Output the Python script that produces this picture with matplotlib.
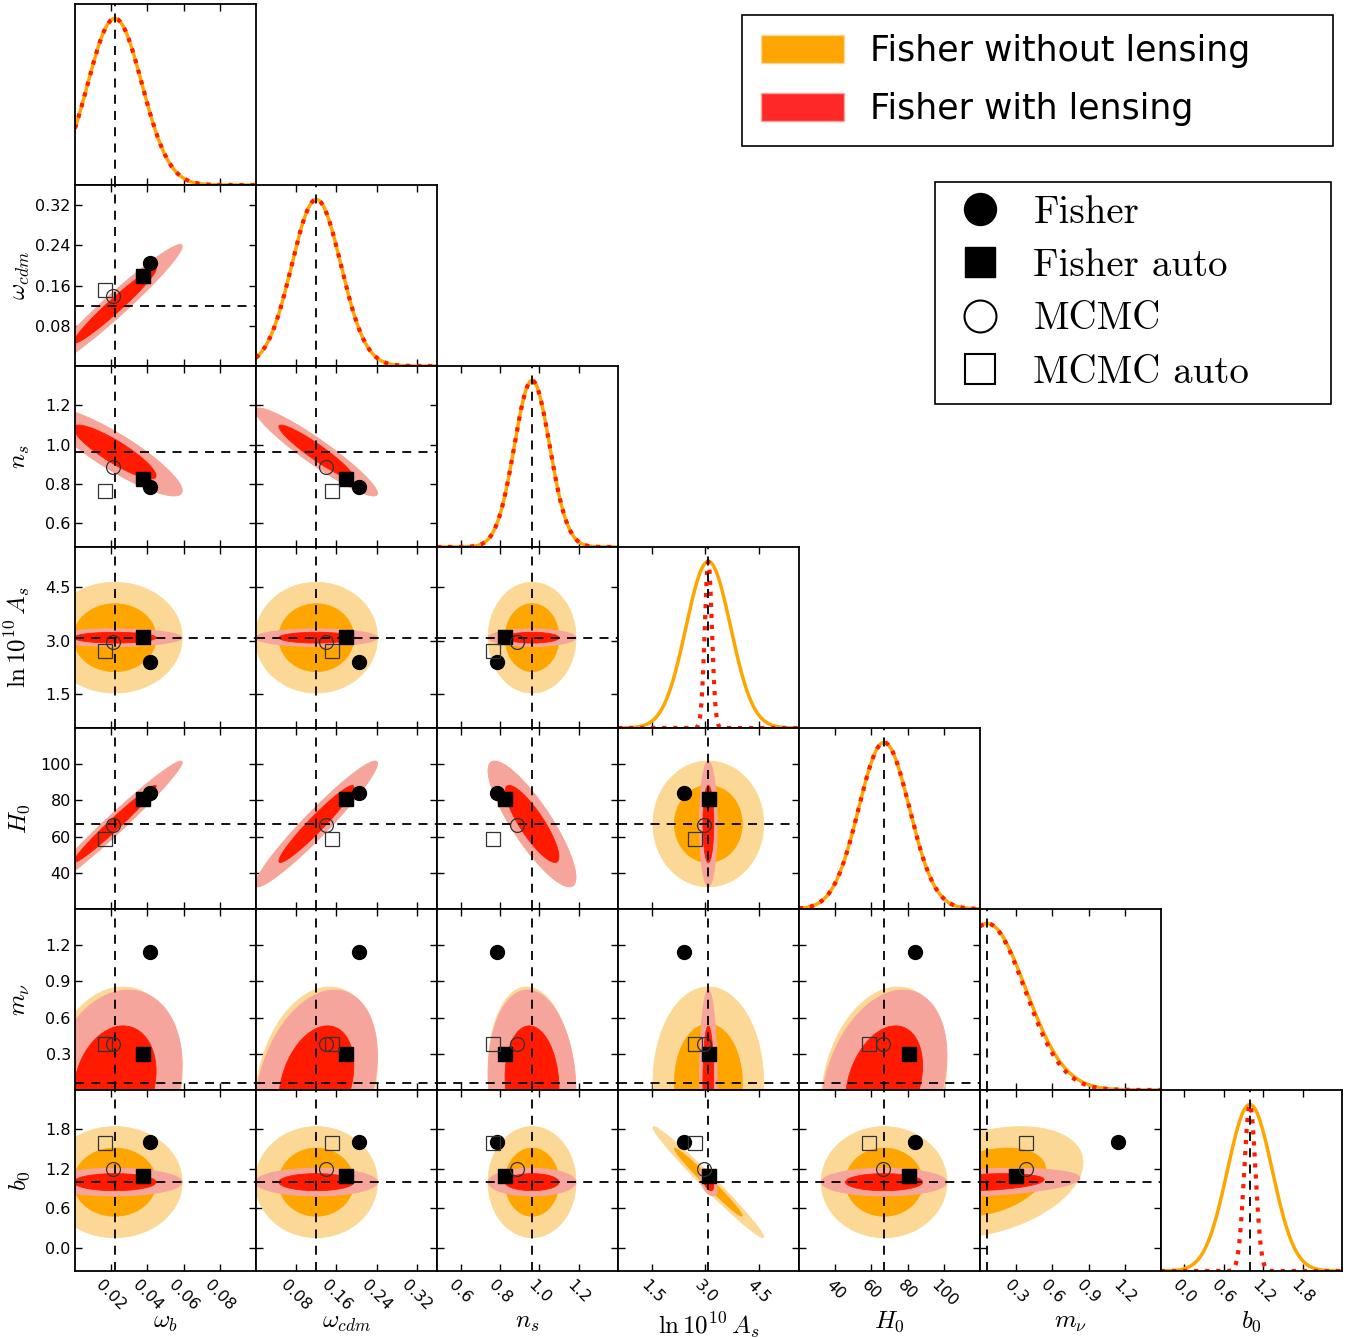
import numpy as np
import matplotlib.pyplot as plt
from matplotlib.lines import Line2D
from matplotlib.patches import Patch
from matplotlib.ticker import FixedLocator, FixedFormatter

plt.rcParams['mathtext.fontset'] = 'cm'

labels = [r'$\omega_b$', r'$\omega_{cdm}$', r'$n_s$', r'$\ln10^{10}\,A_s$', r'$H_0$', r'$m_\nu$', r'$b_0$']
fiducial = [0.022, 0.12, 0.963, 3.08, 67.0, 0.06, 1.0]
sigma_nolens = [0.015, 0.049, 0.09, 0.63, 14.0, 0.32, 0.34]
sigma_lens = [0.015, 0.049, 0.09, 0.10, 14.0, 0.31, 0.085]

corr_lens = [
    [1.00, 0.97, -0.88, 0.00, 0.98, 0.20, 0.00],
    [0.97, 1.00, -0.94, 0.00, 0.96, 0.30, 0.00],
    [-0.88, -0.94, 1.00, 0.00, -0.85, -0.10, 0.00],
    [0.00, 0.00, 0.00, 1.00, 0.00, 0.00, -0.50],
    [0.98, 0.96, -0.85, 0.00, 1.00, 0.30, 0.00],
    [0.20, 0.30, -0.10, 0.00, 0.30, 1.00, 0.30],
    [0.00, 0.00, 0.00, -0.50, 0.00, 0.30, 1.00],
]
corr_nolens = [
    [1.00, 0.97, -0.88, 0.00, 0.98, 0.12, 0.00],
    [0.97, 1.00, -0.94, 0.00, 0.96, 0.22, 0.00],
    [-0.88, -0.94, 1.00, 0.00, -0.85, -0.12, 0.00],
    [0.00, 0.00, 0.00, 1.00, 0.00, 0.00, -0.985],
    [0.98, 0.96, -0.85, 0.00, 1.00, 0.22, 0.00],
    [0.12, 0.22, -0.12, 0.00, 0.22, 1.00, 0.35],
    [0.00, 0.00, 0.00, -0.985, 0.00, 0.35, 1.00],
]

est_fisher = [0.0414, 0.205, 0.785, 2.39, 84.3, 1.14, 1.61]
est_fisher_auto = [0.0377, 0.179, 0.825, 3.11, 80.5, 0.30, 1.09]
est_mcmc = [0.0208, 0.140, 0.885, 2.96, 66.3, 0.385, 1.20]
est_mcmc_auto = [0.0167, 0.151, 0.765, 2.71, 58.5, 0.38, 1.60]

limits = [(0.0, 0.1), (0.0, 0.36), (0.48, 1.4), (0.53, 5.64), (20.0, 120.0), (0.0, 1.5), (-0.35, 2.4)]
ticks = [[0.02, 0.04, 0.06, 0.08], [0.08, 0.16, 0.24, 0.32], [0.6, 0.8, 1.0, 1.2],
         [1.5, 3.0, 4.5], [40, 60, 80, 100], [0.3, 0.6, 0.9, 1.2], [0.0, 0.6, 1.2, 1.8]]
tick_labels = [["0.02", "0.04", "0.06", "0.08"], ["0.08", "0.16", "0.24", "0.32"],
               ["0.6", "0.8", "1.0", "1.2"], ["1.5", "3.0", "4.5"], ["40", "60", "80", "100"],
               ["0.3", "0.6", "0.9", "1.2"], ["0.0", "0.6", "1.2", "1.8"]]

ORANGE_LIGHT = '#FCD896'
ORANGE = '#FFA500'
RED_LIGHT = '#F6A59C'
RED = '#FF1A00'

W, H = 1351, 1338
LEFT, TOP, CELL = 75, 4, 181
N = len(labels)


def ellipse(mx, my, sx, sy, rho, k):
    cov = np.array([[sx * sx, rho * sx * sy], [rho * sx * sy, sy * sy]])
    chol = np.linalg.cholesky(cov)
    t = np.linspace(0, 2 * np.pi, 300)
    pts = chol @ np.vstack([np.cos(t), np.sin(t)]) * k
    return mx + pts[0], my + pts[1]


def style_axis(ax, i, j, diag):
    for s in ax.spines.values():
        s.set_linewidth(1.3)
    ax.set_xlim(limits[j])
    ax.xaxis.set_major_locator(FixedLocator(ticks[j]))
    ax.xaxis.set_major_formatter(FixedFormatter(tick_labels[j]))
    ax.tick_params(axis='x', direction='in', top=True, bottom=True, length=5, width=1,
                   labelsize=11.5, pad=5, labelbottom=(i == N - 1))
    if i == N - 1:
        plt.setp(ax.get_xticklabels(), rotation=-45)
        ax.set_xlabel(labels[j], fontsize=18)
        ax.xaxis.set_label_coords(0.5, -0.215)
    if diag:
        ax.set_ylim(0, 1.087)
        ax.set_yticks([])
    else:
        ax.set_ylim(limits[i])
        ax.yaxis.set_major_locator(FixedLocator(ticks[i]))
        ax.yaxis.set_major_formatter(FixedFormatter(tick_labels[i]))
        ax.tick_params(axis='y', direction='in', left=True, right=True, length=5, width=1,
                       labelsize=11.5, pad=3, labelleft=(j == 0))
        if j == 0:
            ax.set_ylabel(labels[i], fontsize=18)
            ax.yaxis.set_label_coords(-0.235, 0.5)


fig = plt.figure(figsize=(W / 100, H / 100), dpi=100)
dash = dict(color='black', lw=1.3, dashes=(5, 4), zorder=5)

for i in range(N):
    for j in range(i + 1):
        ax = fig.add_axes([(LEFT + CELL * j) / W, 1 - (TOP + CELL * (i + 1)) / H, CELL / W, CELL / H])
        if i == j:
            x = np.linspace(limits[j][0], limits[j][1], 500)
            ax.plot(x, np.exp(-0.5 * ((x - fiducial[j]) / sigma_nolens[j]) ** 2), color=ORANGE, lw=2.5)
            ax.plot(x, np.exp(-0.5 * ((x - fiducial[j]) / sigma_lens[j]) ** 2), color=RED, lw=3, ls=':')
            ax.axvline(fiducial[j], **dash)
            style_axis(ax, i, j, True)
            continue
        for sig, corr, cols in [(sigma_nolens, corr_nolens, (ORANGE_LIGHT, ORANGE)),
                                (sigma_lens, corr_lens, (RED_LIGHT, RED))]:
            for k, c in zip((2.48, 1.52), cols):
                ex, ey = ellipse(fiducial[j], fiducial[i], sig[j], sig[i], corr[i][j], k)
                ax.fill(ex, ey, color=c, lw=0.6, zorder=2)
        ax.axvline(fiducial[j], **dash)
        ax.axhline(fiducial[i], **dash)
        ax.plot(est_fisher[j], est_fisher[i], 'o', color='black', ms=10, zorder=6)
        ax.plot(est_fisher_auto[j], est_fisher_auto[i], 's', color='black', ms=9.5, zorder=6)
        ax.plot(est_mcmc[j], est_mcmc[i], 'o', mfc='none', mec='#333333', mew=0.9, ms=10, zorder=6)
        ax.plot(est_mcmc_auto[j], est_mcmc_auto[i], 's', mfc='none', mec='#333333', mew=0.9, ms=9.5, zorder=6)
        style_axis(ax, i, j, False)

leg1 = fig.legend(handles=[Patch(facecolor=ORANGE, edgecolor=ORANGE_LIGHT),
                           Patch(facecolor='#FF2828', edgecolor=RED_LIGHT)],
                  labels=["Fisher without lensing", "Fisher with lensing"],
                  loc='upper left', bbox_to_anchor=(742 / W, 1 - 15 / H, 591 / W, 0.0),
                  mode='expand', fontsize=25, frameon=True, fancybox=False, edgecolor='black',
                  framealpha=1, handlelength=2.4, handleheight=0.87, handletextpad=0.75,
                  labelspacing=0.7, borderpad=0.55, borderaxespad=0)
leg1.get_frame().set_linewidth(1.2)

marker_handles = [
    Line2D([], [], ls='none', marker='o', color='black', ms=23),
    Line2D([], [], ls='none', marker='s', color='black', ms=21),
    Line2D([], [], ls='none', marker='o', mfc='none', mec='black', mew=1.5, ms=23),
    Line2D([], [], ls='none', marker='s', mfc='none', mec='black', mew=1.5, ms=21),
]
leg2 = fig.legend(handles=marker_handles, labels=["Fisher", "Fisher auto", "MCMC", "MCMC auto"],
                  loc='upper left', bbox_to_anchor=(935 / W, 1 - 182 / H, 396 / W, 0.0),
                  mode='expand', prop={'family': 'cmr10', 'size': 28}, frameon=True, fancybox=False,
                  edgecolor='black', framealpha=1, handlelength=1.65, handletextpad=0.55,
                  labelspacing=0.45, borderpad=0.33, borderaxespad=0)
leg2.get_frame().set_linewidth(1.2)

fig.savefig("out.png", dpi=100)
